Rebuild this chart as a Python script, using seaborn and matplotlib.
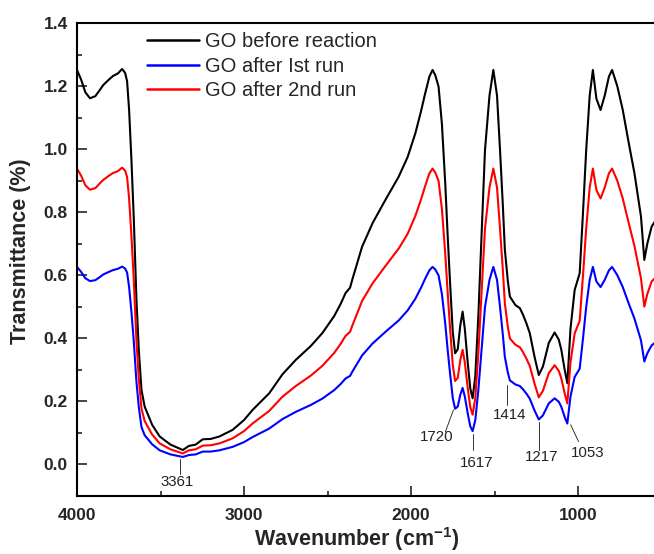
import numpy as np
import pandas as pd
import matplotlib
matplotlib.use("Agg")
import matplotlib.pyplot as plt
import seaborn as sns

# ---------------- data ----------------
wavenumber = [4000, 3975, 3950, 3922, 3890, 3860, 3843, 3810, 3784, 3755,
              3730, 3712, 3700, 3688, 3674, 3660, 3644, 3630, 3614, 3595,
              3550, 3505, 3440, 3366, 3330, 3290, 3247, 3200, 3147, 3068,
              3000, 2949, 2849, 2770, 2690, 2600, 2531, 2460, 2420, 2392,
              2365, 2352, 2293, 2230, 2153, 2074, 2020, 1974, 1940, 1915,
              1890, 1871, 1855, 1835, 1815, 1795, 1780, 1766, 1750, 1736,
              1720, 1705, 1691, 1678, 1660, 1645, 1631, 1615, 1597, 1575,
              1557, 1530, 1507, 1485, 1467, 1450, 1438, 1420, 1408, 1375,
              1348, 1330, 1309, 1289, 1260, 1235, 1210, 1175, 1140, 1115,
              1100, 1080, 1064, 1045, 1020, 990, 970, 951, 930, 911,
              890, 865, 840, 815, 796, 765, 732, 700, 662, 623,
              603, 585, 559, 540]

go_before = [1.251, 1.220, 1.180, 1.161, 1.168, 1.190, 1.203, 1.220, 1.232, 1.240,
             1.254, 1.242, 1.215, 1.124, 0.965, 0.780, 0.521, 0.363, 0.236, 0.183,
             0.125, 0.088, 0.062, 0.045, 0.058, 0.062, 0.079, 0.080, 0.088, 0.109,
             0.140, 0.172, 0.225, 0.285, 0.331, 0.375, 0.416, 0.470, 0.510, 0.543,
             0.560, 0.585, 0.690, 0.765, 0.839, 0.912, 0.975, 1.050, 1.120, 1.177,
             1.230, 1.251, 1.235, 1.198, 1.080, 0.891, 0.720, 0.574, 0.420, 0.352,
             0.365, 0.440, 0.484, 0.430, 0.320, 0.240, 0.209, 0.280, 0.468, 0.760,
             0.997, 1.170, 1.251, 1.170, 0.997, 0.820, 0.680, 0.580, 0.532, 0.505,
             0.495, 0.475, 0.447, 0.416, 0.340, 0.283, 0.310, 0.385, 0.418, 0.395,
             0.363, 0.300, 0.257, 0.430, 0.553, 0.606, 0.800, 0.997, 1.170, 1.251,
             1.160, 1.124, 1.170, 1.230, 1.251, 1.200, 1.124, 1.030, 0.923, 0.786,
             0.648, 0.700, 0.754, 0.770]

go_after_1st = [0.626, 0.610, 0.590, 0.581, 0.584, 0.595, 0.602, 0.610, 0.616, 0.620,
                0.627, 0.621, 0.608, 0.562, 0.483, 0.390, 0.261, 0.182, 0.118, 0.092,
                0.063, 0.044, 0.031, 0.023, 0.029, 0.031, 0.040, 0.040, 0.044, 0.055,
                0.070, 0.086, 0.113, 0.143, 0.166, 0.188, 0.208, 0.235, 0.255, 0.272,
                0.280, 0.293, 0.345, 0.383, 0.420, 0.456, 0.488, 0.525, 0.560, 0.589,
                0.615, 0.626, 0.618, 0.599, 0.540, 0.446, 0.360, 0.287, 0.210, 0.176,
                0.183, 0.220, 0.242, 0.215, 0.160, 0.120, 0.105, 0.140, 0.234, 0.380,
                0.499, 0.585, 0.626, 0.585, 0.499, 0.410, 0.340, 0.290, 0.266, 0.253,
                0.248, 0.238, 0.224, 0.208, 0.170, 0.142, 0.155, 0.193, 0.209, 0.198,
                0.182, 0.150, 0.129, 0.215, 0.277, 0.303, 0.400, 0.499, 0.585, 0.626,
                0.580, 0.562, 0.585, 0.615, 0.626, 0.600, 0.562, 0.515, 0.462, 0.393,
                0.326, 0.352, 0.377, 0.385]

go_after_2nd = [0.938, 0.915, 0.885, 0.871, 0.876, 0.893, 0.902, 0.915, 0.924, 0.930,
                0.941, 0.932, 0.911, 0.843, 0.724, 0.585, 0.391, 0.272, 0.177, 0.137,
                0.094, 0.066, 0.047, 0.034, 0.044, 0.047, 0.059, 0.060, 0.066, 0.082,
                0.105, 0.129, 0.169, 0.214, 0.248, 0.281, 0.312, 0.353, 0.383, 0.407,
                0.420, 0.439, 0.518, 0.574, 0.629, 0.684, 0.731, 0.788, 0.840, 0.883,
                0.923, 0.938, 0.926, 0.899, 0.810, 0.668, 0.540, 0.431, 0.315, 0.264,
                0.274, 0.330, 0.363, 0.323, 0.240, 0.180, 0.157, 0.210, 0.351, 0.570,
                0.748, 0.878, 0.938, 0.878, 0.748, 0.615, 0.510, 0.435, 0.399, 0.379,
                0.371, 0.356, 0.335, 0.312, 0.255, 0.212, 0.233, 0.289, 0.314, 0.296,
                0.272, 0.225, 0.193, 0.323, 0.415, 0.455, 0.600, 0.748, 0.878, 0.938,
                0.870, 0.843, 0.878, 0.923, 0.938, 0.900, 0.843, 0.773, 0.692, 0.590,
                0.500, 0.540, 0.580, 0.590]

series_names = ["GO before reaction", "GO after Ist run", "GO after 2nd run"]
series_colors = ["#000000", "#0000ff", "#ff0000"]

# peak annotations: label, line start (w, T), line end (w, T), text centre (w, T)
peak_labels = ["3361", "1720", "1617", "1414", "1217", "1053"]
peak_line_start = [(3386, 0.016), (1746, 0.172), (1631, 0.096), (1424, 0.252), (1235, 0.135), (1044, 0.125)]
peak_line_end = [(3386, -0.032), (1794, 0.103), (1631, 0.045), (1424, 0.188), (1235, 0.045), (997, 0.072)]
peak_text_pos = [(3401, -0.055), (1847, 0.085), (1609, 0.004), (1407, 0.155), (1219, 0.024), (944, 0.037)]

# ---------------- styling ----------------
sns.set_style("ticks")
plt.rcParams["font.family"] = ["Liberation Sans", "DejaVu Sans"]
plt.rcParams["mathtext.fontset"] = "custom"
plt.rcParams["mathtext.rm"] = "Liberation Sans"
plt.rcParams["mathtext.bf"] = "Liberation Sans:bold"

df = pd.concat([
    pd.DataFrame({"wavenumber": wavenumber, "T": vals, "sample": name})
    for name, vals in zip(series_names, [go_before, go_after_1st, go_after_2nd])
], ignore_index=True)

fig = plt.figure(figsize=(6.54, 5.54), dpi=100)
ax = fig.add_axes([77 / 654, (554 - 495.7) / 554, 1 - 77 / 654, (495.7 - 23) / 554])

sns.lineplot(data=df, x="wavenumber", y="T", hue="sample", hue_order=series_names,
             palette=series_colors, sort=False, estimator=None, linewidth=1.5, ax=ax)

ax.set_xlim(4000, 545)
ax.set_ylim(-0.1, 1.4)
ax.set_xticks([4000, 3000, 2000, 1000])
ax.set_xticks([3500, 2500, 1500], minor=True)
ax.set_yticks(np.arange(0, 1.41, 0.2))
ax.set_yticks(np.arange(-0.1, 1.41, 0.1), minor=True)
ax.set_yticklabels([f"{v:.1f}" for v in np.arange(0, 1.41, 0.2)])
ax.tick_params(axis="both", which="major", direction="in", length=7, width=1.2,
               labelsize=12.5)
ax.tick_params(axis="x", which="major", pad=8.5)
ax.tick_params(axis="y", which="major", pad=6.5)
ax.tick_params(axis="both", which="minor", direction="in", length=3.8, width=1.2)
ax.tick_params(axis="y", which="both", right=False)
ax.tick_params(axis="x", which="both", top=False)
for lab in ax.get_xticklabels() + ax.get_yticklabels():
    lab.set_fontweight("bold")

for side in ["left", "top", "bottom"]:
    ax.spines[side].set_linewidth(1.5)
    ax.spines[side].set_color("black")
ax.spines["right"].set_visible(False)

ax.set_xlabel(r"Wavenumber (cm$^{\mathbf{-1}}$)", fontsize=15.5, fontweight="bold")
ax.set_ylabel("Transmittance (%)", fontsize=15.5, fontweight="bold")
ax.xaxis.set_label_coords((357 - 77) / 577, (495.7 - 539) / 472.7, transform=ax.transAxes)
ax.xaxis.label.set_va("center")
ax.yaxis.set_label_coords((21 - 77) / 577, (495.7 - 251) / 472.7, transform=ax.transAxes)
ax.yaxis.label.set_va("center")

handles, labels = ax.get_legend_handles_labels()
leg = ax.legend(handles, labels, loc="upper left",
                bbox_to_anchor=(147 / 654, (554 - 32) / 554), bbox_transform=fig.transFigure,
                frameon=False, fontsize=14.5, handlelength=2.6, handletextpad=0.3,
                labelspacing=0.28, borderpad=0, borderaxespad=0)
for line in leg.get_lines():
    line.set_linewidth(1.8)

for lab, (x0, y0), (x1, y1), (xt, yt) in zip(peak_labels, peak_line_start, peak_line_end, peak_text_pos):
    ax.plot([x0, x1], [y0, y1], color="#333333", linewidth=0.7)
    ax.text(xt, yt, lab, ha="center", va="center", fontsize=10.8, color="#222222")

fig.savefig("out.png", dpi=100)
